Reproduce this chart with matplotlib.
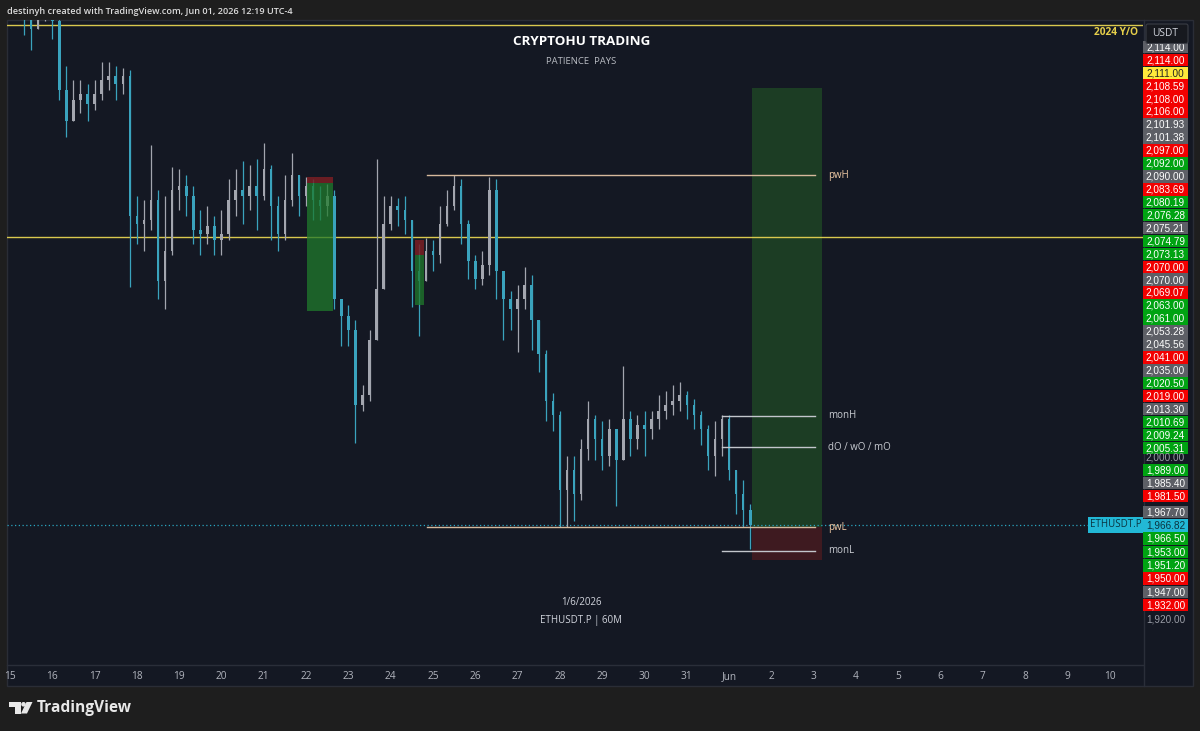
import matplotlib
matplotlib.use('Agg')
import matplotlib.pyplot as plt
import matplotlib.patches as mpatches
import matplotlib.transforms as mtransforms
import numpy as np

plt.rcParams['font.family'] = ['Open Sans', 'DejaVu Sans']

# ---------------- data (4h candles, ETHUSDT.P, day 0 = May 15) ----------------
t_start = 2 / 6
t_step = 1 / 6
closes = [2218, 2211, 2220, 2223, 2215, 2181, 2166, 2176, 2179, 2174, 2179, 2186, 2188, 2184, 2188,
          2119, 2115, 2117, 2127, 2087, 2102, 2132, 2134, 2129, 2112, 2110, 2114, 2107, 2110, 2127,
          2132, 2129, 2134, 2129, 2142, 2124, 2110, 2127, 2139, 2129, 2134, 2127, 2124, 2129, 2078,
          2070, 2063, 2026, 2031, 2058, 2083, 2115, 2124, 2122, 2117, 2092, 2087, 2102, 2100, 2115,
          2124, 2134, 2115, 2097, 2088, 2095, 2132, 2092, 2078, 2073, 2078, 2085, 2068, 2051, 2028,
          2021, 1984, 1994, 1982, 2004, 2019, 2009, 2001, 2014, 1999, 2019, 2009, 2016, 2014, 2019,
          2023, 2026, 2028, 2031, 2026, 2021, 2014, 2001, 2009, 2019, 1994, 1982, 1974, 1966.82]
highs = [2235, 2225, 2230, 2235, 2230, 2218, 2193, 2186, 2186, 2184, 2186, 2195, 2195, 2193, 2192,
         2191, 2129, 2127, 2154, 2132, 2129, 2143, 2142, 2139, 2134, 2122, 2124, 2119, 2122, 2137,
         2142, 2146, 2144, 2147, 2155, 2144, 2129, 2139, 2150, 2139, 2138, 2137, 2134, 2135, 2132,
         2078, 2075, 2068, 2036, 2063, 2147, 2129, 2129, 2128, 2129, 2115, 2105, 2108, 2107, 2124,
         2132, 2139, 2137, 2117, 2100, 2102, 2138, 2137, 2092, 2082, 2085, 2094, 2090, 2068, 2053,
         2032, 2023, 2001, 2001, 2009, 2028, 2021, 2018, 2019, 2014, 2045, 2023, 2021, 2023, 2023,
         2031, 2033, 2036, 2037, 2033, 2029, 2023, 2016, 2018, 2021, 2021, 1994, 1989, 1977]
lows = [2208, 2201, 2211, 2215, 2206, 2176, 2158, 2169, 2170, 2166, 2171, 2176, 2181, 2176, 2179,
        2084, 2105, 2102, 2112, 2078, 2073, 2100, 2122, 2119, 2105, 2100, 2105, 2100, 2100, 2107,
        2119, 2115, 2122, 2112, 2127, 2107, 2102, 2107, 2124, 2119, 2124, 2117, 2117, 2119, 2073,
        2055, 2055, 2007, 2023, 2028, 2078, 2105, 2112, 2114, 2110, 2074, 2060, 2090, 2092, 2096,
        2114, 2122, 2105, 2088, 2083, 2085, 2090, 2078, 2058, 2063, 2052, 2073, 2053, 2042, 2018,
        2013, 1966, 1966, 1969, 1979, 1999, 1999, 1994, 1996, 1976, 2004, 2001, 2004, 2001, 2009,
        2014, 2019, 2021, 2023, 2019, 2014, 2006, 1994, 1991, 2001, 1989, 1972, 1966, 1955]
first_open = 2225

last_price = 1966.82
yearly_open_lines = [2213.1, 2108.59]

# levels: (name, price, start day, end day)
levels = [('pwH', 2139.2, 9.86, 19.03),
          ('pwL', 1965.8, 9.86, 19.03),
          ('monH', 2020.5, 16.83, 19.03),
          ('dO / wO / mO', 2005.2, 16.83, 19.03),
          ('monL', 1954.0, 16.83, 19.03)]

# position boxes: (t0, t1, entry, target, stop)
positions = [(7.02, 7.64, 2135.3, 2072.2, 2138.3),
             (9.57, 9.78, 2099.8, 2075.0, 2107.2)]
main_trade = (17.54, 19.20, 1965.8, 2182.1, 1949.6)

day_labels = [str(d) for d in range(15, 32)] + ['Jun'] + [str(d) for d in range(2, 11)]

price_labels = ['2,114.00', '2,114.00', '2,111.00', '2,108.59', '2,108.00', '2,106.00', '2,101.93',
                '2,101.38', '2,097.00', '2,092.00', '2,090.00', '2,083.69', '2,080.19', '2,076.28',
                '2,075.21', '2,074.79', '2,073.13', '2,070.00', '2,070.00', '2,069.07', '2,063.00',
                '2,061.00', '2,053.28', '2,045.56', '2,041.00', '2,035.00', '2,020.50', '2,019.00',
                '2,013.30', '2,010.69', '2,009.24', '2,005.31']
price_kinds = ['g', 'r', 'y', 'r', 'r', 'r', 'g', 'g', 'r', 'G', 'g', 'r', 'G', 'G', 'g', 'G', 'G',
               'r', 'g', 'r', 'G', 'G', 'g', 'g', 'r', 'g', 'G', 'r', 'g', 'G', 'G', 'G']
mid_labels = ['1,989.00', '1,985.40', '1,981.50']
mid_kinds = ['G', 'g', 'r']
low_labels = ['1,967.70', '1,966.82', '1,966.50', '1,953.00', '1,951.20', '1,950.00', '1,947.00', '1,932.00']
low_kinds = ['g', 'c', 'G', 'G', 'G', 'r', 'g', 'r']
axis_prices = [2000, 1920]

# ---------------- colours ----------------
BG_OUT = '#1e1e1e'
BG = '#141823'
UP = '#a3a6af'
DOWN = '#3aa3bd'
box_col = {'r': '#f20000', 'g': '#5d5f66', 'G': '#00a312', 'y': '#ffe93b', 'c': '#22b8d6'}
txt_col = {'r': 'white', 'g': 'white', 'G': 'white', 'y': '#222222', 'c': '#0b3440'}

W, H = 1200, 731
fig = plt.figure(figsize=(12, 7.31), dpi=100, facecolor=BG_OUT)

# overlay in pixel coords (background + decorations)
ov = fig.add_axes([0, 0, 1, 1], zorder=0)
ov.set_xlim(0, W)
ov.set_ylim(H, 0)
ov.axis('off')
ov.add_patch(mpatches.Rectangle((7, 20), 1186, 666, facecolor=BG, edgecolor='#2a2d36', lw=1))
ov.plot([7, 1143], [664.5, 664.5], color='#2a2e39', lw=1)
ov.plot([1143.5, 1143.5], [20, 686], color='#2a2e39', lw=1)
ov.text(7, 11, 'destinyh created with TradingView.com, Jun 01, 2026 12:19 UTC-4',
        color='#dcdcdc', fontsize=6.6, fontweight='semibold', va='center', ha='left')

# ---------------- chart ----------------
x0, x1 = 7, 1143
y0, y1 = 20, 664
ax = fig.add_axes([x0 / W, 1 - y1 / H, (x1 - x0) / W, (y1 - y0) / H], zorder=1)
ax.set_facecolor('none')
px_day = 42.3
px_usd = 2.03
ax.set_xlim((x0 - 10) / px_day, (x1 - 10) / px_day)
ax.set_ylim(1920 - (y1 - 620) / px_usd, 1920 + (620 - y0) / px_usd)
for s in ax.spines.values():
    s.set_visible(False)

n = len(closes)
t = t_start + t_step * np.arange(n)
c = np.array(closes, dtype=float)
o = np.concatenate([[first_open], c[:-1]])
hi = np.maximum(np.array(highs, dtype=float), np.maximum(o, c))
lo = np.minimum(np.array(lows, dtype=float), np.minimum(o, c))
cols = np.where(c >= o, UP, DOWN)

ax.vlines(t, lo, hi, colors=cols, lw=0.9, zorder=3)
ax.bar(t, np.maximum(np.abs(c - o), 0.6), bottom=np.minimum(o, c), width=t_step * 0.36,
       color=cols, edgecolor='none', zorder=3)

# yearly open lines
for yv in yearly_open_lines:
    ax.axhline(yv, color='#d9c84e', lw=1, zorder=2)

# small past positions
for (a, b, entry, tgt, stop) in positions:
    ax.add_patch(mpatches.Rectangle((a, tgt), b - a, entry - tgt, facecolor='#1f7a2c',
                                    alpha=0.75, edgecolor='none', zorder=4))
    ax.add_patch(mpatches.Rectangle((a, entry), b - a, stop - entry, facecolor='#7a1e24',
                                    alpha=0.85, edgecolor='none', zorder=4))

# main position
a, b, entry, tgt, stop = main_trade
ax.add_patch(mpatches.Rectangle((a, entry), b - a, tgt - entry, facecolor='#1c3d24',
                                edgecolor='none', zorder=1))
ax.add_patch(mpatches.Rectangle((a, stop), b - a, entry - stop, facecolor='#3e1a20',
                                edgecolor='none', zorder=1))

# levels
for name, p, a, b in levels:
    col = '#d6b99c' if name.startswith('pw') else '#c3c6cc'
    tcol = '#eec9a4' if name.startswith('pw') else '#c9ccd2'
    ax.plot([a, b], [p, p], color=col, lw=1, zorder=5)
    ax.text(b + 0.3, p, name, color=tcol, fontsize=7, va='center', ha='left', zorder=6)

# last price
ax.axhline(last_price, color='#2aa5c0', lw=0.9, ls=(0, (1, 2)), zorder=2)
trans = mtransforms.blended_transform_factory(ax.transAxes, ax.transData)
ax.text(0.9985, last_price, 'ETHUSDT.P', transform=trans, ha='right', va='center', fontsize=7,
        color='#0b3440', zorder=7,
        bbox=dict(boxstyle='square,pad=0.22', facecolor='#22b8d6', edgecolor='none'))

# centre texts
ax.text(0.5055, 0.967, 'CRYPTOHU TRADING', transform=ax.transAxes, ha='center', va='center',
        color='white', fontsize=9.6, fontweight='bold')
ax.text(0.5055, 0.936, 'PATIENCE  PAYS', transform=ax.transAxes, ha='center', va='center',
        color='#b8bbc2', fontsize=6.8)
ax.text(0.5055, 0.096, '1/6/2026', transform=ax.transAxes, ha='center', va='center',
        color='#d1d4dc', fontsize=7)
ax.text(0.5055, 0.067, 'ETHUSDT.P | 60M', transform=ax.transAxes, ha='center', va='center',
        color='#d1d4dc', fontsize=7)
ax.text(0.9955, 0.981, '2024 Y/O', transform=ax.transAxes, ha='right', va='center',
        color='#e6cf4a', fontsize=7.3, fontweight='bold')

# date axis
ax.set_xticks(np.arange(len(day_labels)))
ax.set_xticklabels(day_labels)
ax.tick_params(axis='x', length=0, pad=5, labelsize=7.3, labelcolor='#b2b5be')
ax.set_yticks([])

# ---------------- price scale labels ----------------
def price_box(ypix, label, kind):
    ov.add_patch(mpatches.Rectangle((1143, ypix - 6.3), 45, 12.6, facecolor=box_col[kind],
                                    edgecolor='none', zorder=2))
    ov.text(1165.5, ypix + 0.3, label, color=txt_col[kind], fontsize=7.2, ha='center',
            va='center', family=['Liberation Sans'], zorder=2)

step = 12.93
for i, (lab, k) in enumerate(zip(price_labels, price_kinds)):
    price_box(47 + i * step, lab, k)
for i, (lab, k) in enumerate(zip(mid_labels, mid_kinds)):
    price_box(470 + i * 13, lab, k)
for i, (lab, k) in enumerate(zip(low_labels, low_kinds)):
    price_box(512 + i * 13.3, lab, k)
for p in axis_prices:
    ypix = 620 - (p - 1920) * px_usd
    ov.text(1165.5, ypix, f'{p:,.2f}', color='#9a9da6', fontsize=7.2, ha='center',
            va='center', family=['Liberation Sans'])

# USDT box
ov.add_patch(mpatches.FancyBboxPatch((1146, 24), 42, 19.5, boxstyle='round,pad=0,rounding_size=2',
                                     facecolor='#17191f', edgecolor='#3a3d45', lw=0.8, zorder=5))
ov.text(1152, 34, 'USDT', color='#d1d4dc', fontsize=7.3, ha='left', va='center', zorder=6)

# TradingView logo
ov.add_patch(mpatches.Polygon([(9, 702), (20.5, 702), (20.5, 713.5), (15, 713.5), (15, 706.5), (9, 706.5)],
                              closed=True, facecolor='#e8e8e8', edgecolor='none'))
ov.add_patch(mpatches.Circle((23.5, 704.3), 2.3, facecolor='#e8e8e8', edgecolor='none'))
ov.add_patch(mpatches.Polygon([(26.5, 702), (32.5, 702), (27, 713.5), (21, 713.5)],
                              closed=True, facecolor='#e8e8e8', edgecolor='none'))
ov.text(37, 708, 'TradingView', color='#e8e8e8', fontsize=11.2, fontweight='bold',
        ha='left', va='center')

fig.savefig('out.png', dpi=100, facecolor=BG_OUT)
